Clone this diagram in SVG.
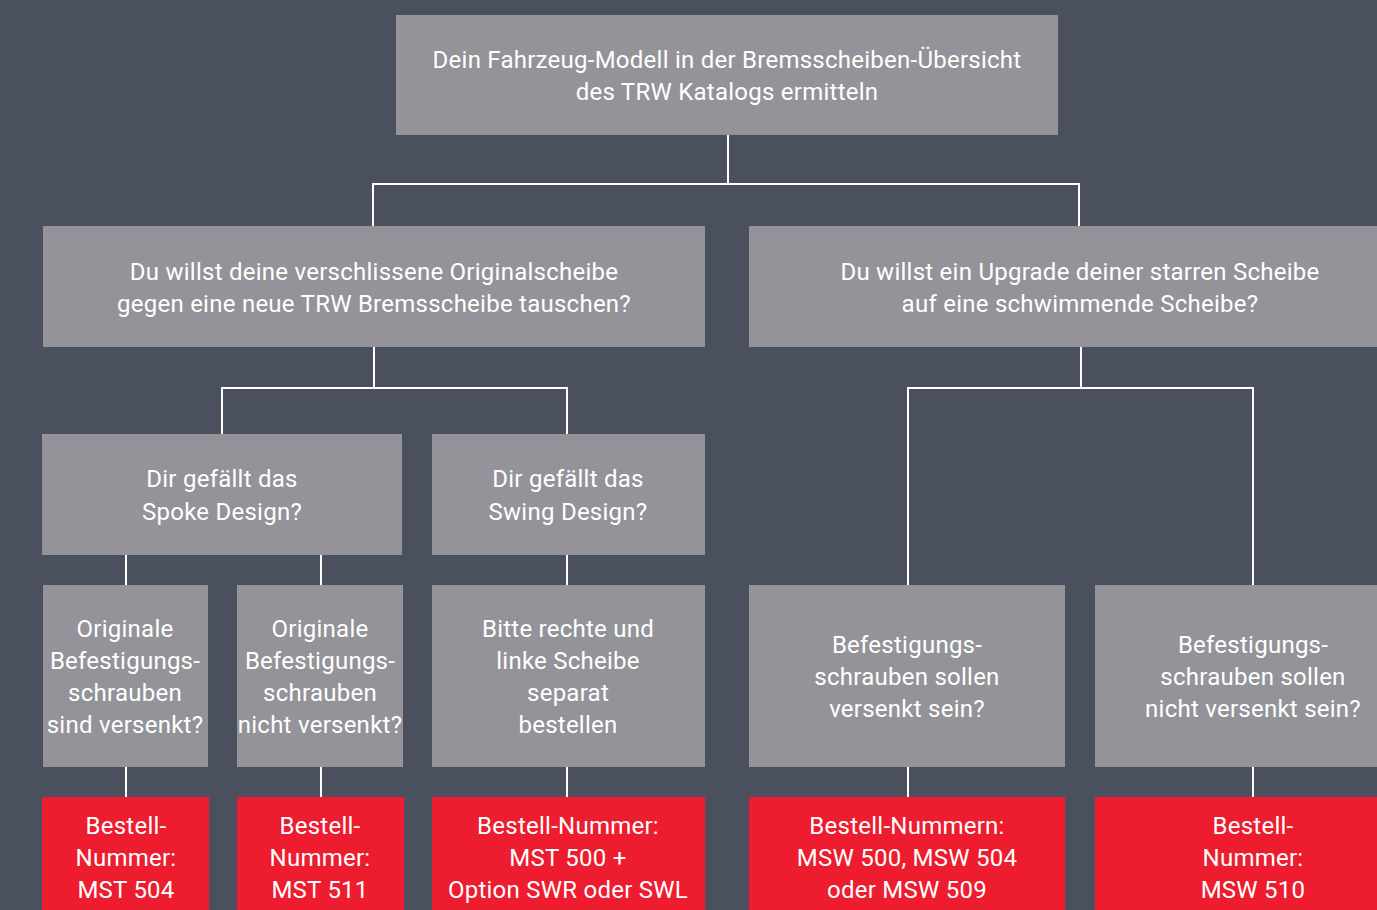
<svg xmlns="http://www.w3.org/2000/svg" width="1377" height="910" viewBox="0 0 1377 910">
<style>
.bg{fill:#4a505e}
.box{fill:#939399}
.red{fill:#ed1c2e}
.t{font-family:Roboto,"Liberation Sans",sans-serif;font-size:24px;letter-spacing:0.25px;fill:#ffffff;text-anchor:middle}
.c{stroke:#ffffff;stroke-width:2;fill:none}
</style>
<rect class="bg" x="0" y="0" width="1377" height="910"/>
<g id="connectors">
<path class="c" d="M728 135V184M373 226V184H1079V226"/>
<path class="c" d="M374 347V388M222 434V388H567V434"/>
<path class="c" d="M1081 347V388M908 585V388H1253V585"/>
<path class="c" d="M126 555V585M321 555V585M567 555V585"/>
<path class="c" d="M126 767V797M321 767V797M567 767V797M908 767V797M1253 767V797"/>
</g>
<g id="n0"><rect class="box" x="396" y="15" width="662" height="120"/>
<text class="t" x="727" y="68">Dein Fahrzeug-Modell in der Bremsscheiben-Übersicht</text>
<text class="t" x="727" y="100">des TRW Katalogs ermitteln</text></g>
<g id="n1"><rect class="box" x="43" y="226" width="662" height="121"/>
<text class="t" x="374" y="280">Du willst deine verschlissene Originalscheibe</text>
<text class="t" x="374" y="312">gegen eine neue TRW Bremsscheibe tauschen?</text></g>
<g id="n2"><rect class="box" x="749" y="226" width="628" height="121"/>
<text class="t" x="1080" y="280">Du willst ein Upgrade deiner starren Scheibe</text>
<text class="t" x="1080" y="312">auf eine schwimmende Scheibe?</text></g>
<g id="n3"><rect class="box" x="42" y="434" width="360" height="121"/>
<text class="t" x="222" y="487">Dir gefällt das</text>
<text class="t" x="222" y="520">Spoke Design?</text></g>
<g id="n4"><rect class="box" x="432" y="434" width="273" height="121"/>
<text class="t" x="568" y="487">Dir gefällt das</text>
<text class="t" x="568" y="520">Swing Design?</text></g>
<g id="n5"><rect class="box" x="43" y="585" width="165" height="182"/>
<text class="t" x="125" y="637">Originale</text>
<text class="t" x="125" y="669">Befestigungs-</text>
<text class="t" x="125" y="701">schrauben</text>
<text class="t" x="125" y="733">sind versenkt?</text></g>
<g id="n6"><rect class="box" x="237" y="585" width="166" height="182"/>
<text class="t" x="320" y="637">Originale</text>
<text class="t" x="320" y="669">Befestigungs-</text>
<text class="t" x="320" y="701">schrauben</text>
<text class="t" x="320" y="733">nicht versenkt?</text></g>
<g id="n7"><rect class="box" x="432" y="585" width="273" height="182"/>
<text class="t" x="568" y="637">Bitte rechte und</text>
<text class="t" x="568" y="669">linke Scheibe</text>
<text class="t" x="568" y="701">separat</text>
<text class="t" x="568" y="733">bestellen</text></g>
<g id="n8"><rect class="box" x="749" y="585" width="316" height="182"/>
<text class="t" x="907" y="653">Befestigungs-</text>
<text class="t" x="907" y="685">schrauben sollen</text>
<text class="t" x="907" y="717">versenkt sein?</text></g>
<g id="n9"><rect class="box" x="1095" y="585" width="282" height="182"/>
<text class="t" x="1253" y="653">Befestigungs-</text>
<text class="t" x="1253" y="685">schrauben sollen</text>
<text class="t" x="1253" y="717">nicht versenkt sein?</text></g>
<g id="r1"><rect class="red" x="42" y="797" width="167" height="113"/>
<text class="t" x="126" y="834">Bestell-</text>
<text class="t" x="126" y="866">Nummer:</text>
<text class="t" x="126" y="898">MST 504</text></g>
<g id="r2"><rect class="red" x="237" y="797" width="167" height="113"/>
<text class="t" x="320" y="834">Bestell-</text>
<text class="t" x="320" y="866">Nummer:</text>
<text class="t" x="320" y="898">MST 511</text></g>
<g id="r3"><rect class="red" x="432" y="797" width="273" height="113"/>
<text class="t" x="568" y="834">Bestell-Nummer:</text>
<text class="t" x="568" y="866">MST 500 +</text>
<text class="t" x="568" y="898">Option SWR oder SWL</text></g>
<g id="r4"><rect class="red" x="749" y="797" width="316" height="113"/>
<text class="t" x="907" y="834">Bestell-Nummern:</text>
<text class="t" x="907" y="866">MSW 500, MSW 504</text>
<text class="t" x="907" y="898">oder MSW 509</text></g>
<g id="r5"><rect class="red" x="1095" y="797" width="282" height="113"/>
<text class="t" x="1253" y="834">Bestell-</text>
<text class="t" x="1253" y="866">Nummer:</text>
<text class="t" x="1253" y="898">MSW 510</text></g>
</svg>
